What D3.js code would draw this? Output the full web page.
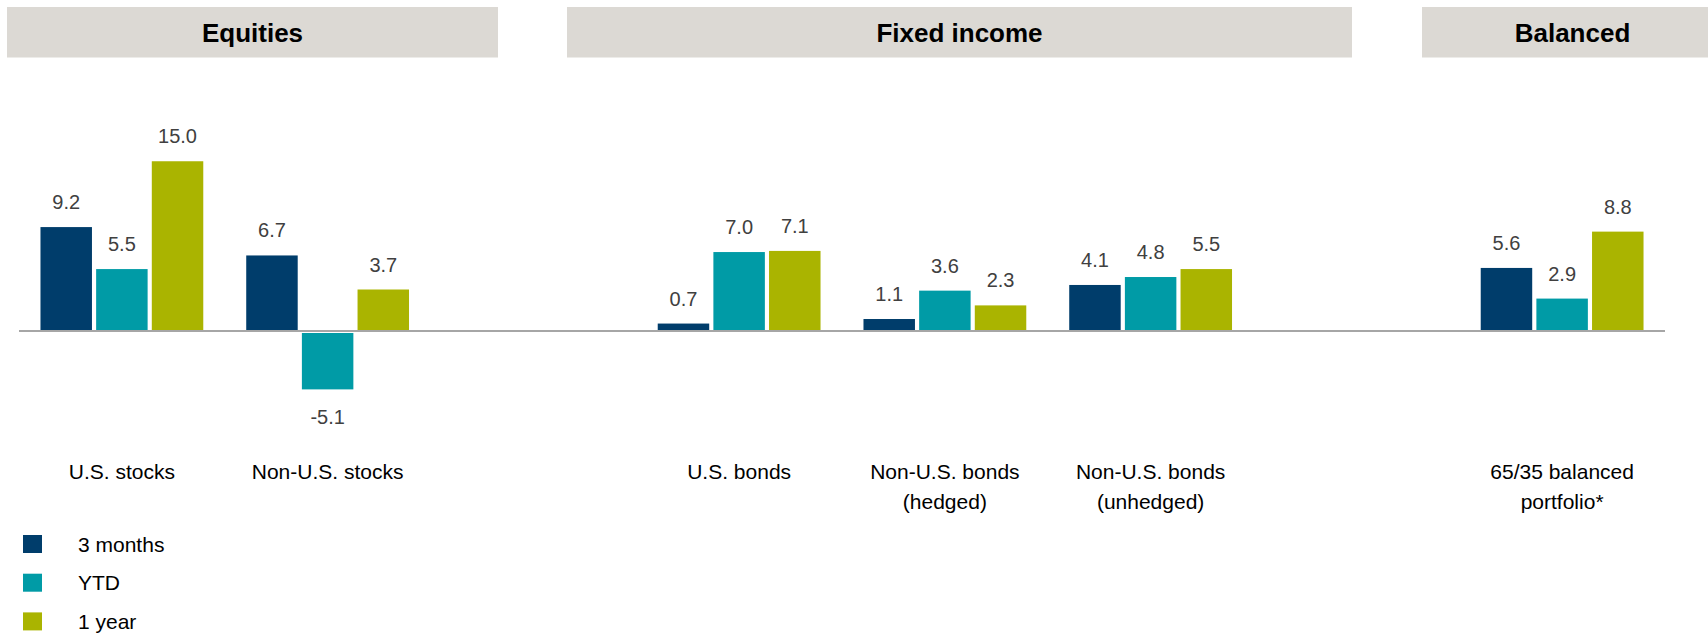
<!DOCTYPE html>
<html>
<head>
<meta charset="utf-8">
<script src="https://cdn.jsdelivr.net/npm/d3@7/dist/d3.min.js"></script>
<style>
  html, body { margin: 0; padding: 0; background: #fff; }
  svg { display: block; }
  text { font-family: "Liberation Sans", Arial, sans-serif; }
</style>
</head>
<body>
<svg id="chart" width="1708" height="633"></svg>
<script>
// Asset-class groups and their categories
const groups = ["Equities", "Fixed income", "Balanced"];
const categories = [
  "U.S. stocks",
  "Non-U.S. stocks",
  "U.S. bonds",
  "Non-U.S. bonds\n(hedged)",
  "Non-U.S. bonds\n(unhedged)",
  "65/35 balanced\nportfolio*"
];
const categoryGroup = ["Equities", "Equities", "Fixed income", "Fixed income", "Fixed income", "Balanced"];

// Return periods (%)
const series = ["3 months", "YTD", "1 year"];
const threeMonths = [9.2, 6.7, 0.7, 1.1, 4.1, 5.6];
const ytd = [5.5, -5.1, 7.0, 3.6, 4.8, 2.9];
const oneYear = [15.0, 3.7, 7.1, 2.3, 5.5, 8.8];
const seriesValues = [threeMonths, ytd, oneYear];

const colors = ["#003d6b", "#009ba6", "#aab400"];

const svg = d3.select("#chart");
// Plain hyphen for negative numbers
const fmt = d3.formatLocale({ decimal: ".", thousands: ",", grouping: [3], currency: ["", ""], minus: "-" }).format(".1f");

// Slot domain: categories grouped, with an empty spacer slot between groups
const slots = [];
groups.forEach((g, gi) => {
  if (gi > 0) slots.push("__gap" + gi);
  categories.forEach((c, ci) => { if (categoryGroup[ci] === g) slots.push(c); });
});

const x0 = d3.scaleBand().domain(slots).range([19, 1665]).paddingInner(0).paddingOuter(0);
const x1 = d3.scaleBand().domain(series).range([-81.4, 81.4]).paddingInner(0.075);
const y = d3.scaleLinear().domain([0, 10]).range([331.5, 218]);

// Group header bands
const headerLayout = [
  { x0: 7, x1: 498 },
  { x0: 567, x1: 1352 },
  { x0: 1422, x1: 1723 }
];
const headers = svg.append("g").attr("class", "headers");
groups.forEach((g, i) => {
  const h = headerLayout[i];
  headers.append("rect")
    .attr("x", h.x0).attr("y", 7)
    .attr("width", h.x1 - h.x0).attr("height", 50.5)
    .attr("fill", "#dcd9d4");
  headers.append("text")
    .attr("x", (h.x0 + h.x1) / 2).attr("y", 41.5)
    .attr("text-anchor", "middle")
    .attr("font-size", 26).attr("font-weight", "bold")
    .attr("fill", "#000")
    .text(g);
});

// Flattened bar data
const bars = [];
categories.forEach((c, ci) => {
  series.forEach((s, si) => {
    bars.push({ category: c, series: s, si, value: seriesValues[si][ci] });
  });
});

const plot = svg.append("g").attr("class", "bars");
const cx = d => x0(d.category) + x0.bandwidth() / 2 + x1(d.series);
const zeroY = y(0);

// Positive bars stop just above the zero line, negative bars start just below it
plot.selectAll("rect")
  .data(bars)
  .join("rect")
  .attr("x", d => cx(d))
  .attr("width", x1.bandwidth())
  .attr("y", d => d.value >= 0 ? y(d.value) : zeroY + 1.5)
  .attr("height", d => d.value >= 0 ? (zeroY - 1.5) - y(d.value) : y(d.value) - (zeroY + 1.5))
  .attr("fill", d => colors[d.si]);

// Zero line
svg.append("line")
  .attr("x1", x0.range()[0]).attr("x2", x0.range()[1])
  .attr("y1", zeroY - 0.5).attr("y2", zeroY - 0.5)
  .attr("stroke", "#a6a6a6").attr("stroke-width", 2);

// Value labels
plot.selectAll("text.value")
  .data(bars)
  .join("text")
  .attr("class", "value")
  .attr("x", d => cx(d) + x1.bandwidth() / 2)
  .attr("y", d => d.value >= 0 ? y(d.value) - 18 : y(d.value) + 35)
  .attr("text-anchor", "middle")
  .attr("font-size", 20)
  .attr("fill", "#404040")
  .text(d => fmt(d.value));

// Category labels
const catLabels = svg.append("g").attr("class", "categories");
categories.forEach(c => {
  const t = catLabels.append("text")
    .attr("x", x0(c) + x0.bandwidth() / 2)
    .attr("y", 479)
    .attr("text-anchor", "middle")
    .attr("font-size", 21)
    .attr("fill", "#000");
  c.split("\n").forEach((line, li) => {
    t.append("tspan")
      .attr("x", x0(c) + x0.bandwidth() / 2)
      .attr("dy", li === 0 ? 0 : 30)
      .text(line);
  });
});

// Legend
const legend = svg.append("g").attr("class", "legend");
series.forEach((s, i) => {
  const ly = 535 + i * 38.7;
  legend.append("rect")
    .attr("x", 23).attr("y", ly)
    .attr("width", 19).attr("height", 18)
    .attr("fill", colors[i]);
  legend.append("text")
    .attr("x", 78).attr("y", ly + 16.5)
    .attr("font-size", 21)
    .attr("fill", "#000")
    .text(s);
});
</script>
</body>
</html>
